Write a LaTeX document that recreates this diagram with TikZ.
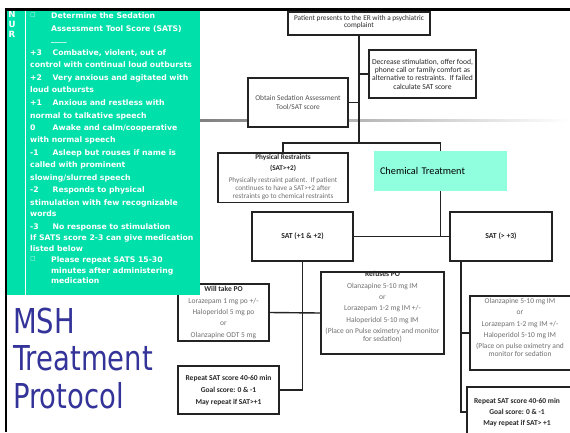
\documentclass[tikz,border=0pt]{standalone}
\usepackage{fontspec}
\setmainfont{Carlito}
\newfontfamily\panelfont{DejaVu Sans}
\newfontfamily\titlefont{DejaVu Sans}[FakeStretch=0.8]
\definecolor{panelgreen}{RGB}{0,224,170}
\definecolor{chemfill}{RGB}{144,255,222}
\definecolor{titleblue}{RGB}{51,51,153}
\definecolor{linedark}{RGB}{35,35,35}
\definecolor{txtgray}{RGB}{112,112,112}
\definecolor{txtmid}{RGB}{80,80,80}
\definecolor{txtdark}{RGB}{40,40,40}
\tikzset{
  box/.style={draw=linedark, line width=1.3pt, fill=white, inner sep=2pt, align=center,
    font=\fontsize{7.5}{11.3}\selectfont, text=txtgray},
  btxt/.style={inner sep=0pt, align=center, font=\fontsize{7.5}{11.3}\selectfont, text=txtgray},
  link/.style={draw=linedark, line width=1.4pt},
  ptxt/.style={inner sep=0pt, text=white, font=\fontsize{7.7}{12.4}\selectfont\panelfont\bfseries},
  ttl/.style={inner sep=0pt, anchor=base west, text=titleblue, font=\fontsize{34.3}{37}\selectfont\titlefont},
}
\begin{document}
\begin{tikzpicture}[x=1pt,y=-1pt]
\useasboundingbox (0,0) rectangle (570,432);
\clip (0,0) rectangle (570,432);
\fill[white] (0,0) rectangle (570,432);

% faded rule across the flowchart area
\shade[left color=black!50, right color=white] (200,119) rectangle (570,121);

% flowchart boxes
\node[box, minimum width=142pt, minimum height=23pt] (patient) at (359,23.5) {};
\node[btxt, font=\fontsize{7.3}{7.6}\selectfont, text=txtdark] (patientT) at (359,22)
  {Patient presents to the ER with a psychiatric\\complaint};

\node[box, minimum width=107pt, minimum height=48pt, font=\fontsize{7.6}{8.3}\selectfont, text=txtdark]
  (decr) at (422.5,74)
  {Decrease stimulation, offer food,\\phone call or family comfort as\\alternative to restraints.\ \ If failed\\calculate SAT score};

\node[box, minimum width=100pt, minimum height=49pt, font=\fontsize{7.4}{9}\selectfont, text=txtmid]
  (obtain) at (298,102.5) {Obtain Sedation Assessment\\Tool/SAT score};

\node[box, minimum width=130pt, minimum height=49pt, font=\fontsize{7.2}{8}\selectfont]
  (phys) at (283,177.5)
  {\textcolor{txtdark}{\bfseries Physical Restraints}\\[3pt]
   \textcolor{txtdark}{\bfseries (SAT>+2)}\\[4pt]
   Physically restraint patient.\ \ If patient\\continues to have a SAT>+2 after\\restraints go to chemical restraints};

\node[fill=chemfill, minimum width=133pt, minimum height=40pt, text width=121pt, inner xsep=6pt,
  align=left, font=\fontsize{10.3}{12}\selectfont, text=black] (chem) at (440.5,171) {Chemical Treatment};

\node[box, minimum width=101pt, minimum height=49pt, font=\fontsize{7.7}{9}\selectfont\bfseries, text=txtdark]
  (satL) at (302.5,236.5) {SAT (+1 \& +2)};
\node[box, minimum width=102pt, minimum height=49pt, font=\fontsize{7.7}{9}\selectfont\bfseries, text=txtdark]
  (satR) at (501,236.5) {SAT (> +3)};

\node[box, minimum width=91pt, minimum height=57pt] (willpo) at (223.5,312.5)
  {\textcolor{txtdark}{\bfseries Will take PO}\\Lorazepam 1 mg po +/-\\Haloperidol 5 mg po\\or\\Olanzapine ODT 5 mg};

\node[box, minimum width=123pt, minimum height=82pt] (refuses) at (382.5,313) {};
\node[btxt] (refusesT) at (382.5,307)
  {\textcolor{txtdark}{\bfseries Refuses PO}\\Olanzapine 5-10 mg IM\\or\\Lorazepam 1-2 mg IM +/-\\Haloperidol 5-10 mg IM\\(Place on Pulse oximetry and monitor\\[-3.5pt]for sedation)};

\node[box, minimum width=101pt, minimum height=48pt, font=\fontsize{7.5}{12}\selectfont\bfseries, text=txtdark]
  (repL) at (228.5,390) {Repeat SAT score 40-60 min\\Goal score: 0 \& -1\\May repeat if SAT>+1};

\node[box, minimum width=106pt, minimum height=74pt] (olzR) at (523,333) {};
\node[btxt] (olzRT) at (520,327.5)
  {Olanzapine 5-10 mg IM\\or\\Lorazepam 1-2 mg IM +/-\\Haloperidol 5-10 mg IM\\(Place on pulse oximetry and\\[-3.3pt]monitor for sedation};

\node[box, minimum width=108pt, minimum height=50pt] (repR) at (521,412) {};
\node[btxt, font=\fontsize{7.5}{11}\selectfont\bfseries, text=txtdark] (repRT) at (517,412)
  {Repeat SAT score 40-60 min\\Goal score: 0 \& -1\\May repeat if SAT> +1};

% connectors
\coordinate (fork) at (359,143);
\coordinate (rtop) at (461,261);
\draw[link] (patient.south) -- (fork);
\draw[link] (decr.west) -- (decr.west -| fork);
\draw[link] (obtain.east) -- (obtain.east -| fork);
\draw[link] (phys.north) |- (fork) -| (chem.north);
\draw[link] (chem.south) -- (chem.south |- satL.east);
\draw[link] (satL.east) -- (satR.west);
\draw[link] (satL.south) |- (repL.east);
\draw[link] (willpo.east) -- (refuses.west);
\draw[link] (rtop) |- (repR.west);
\draw[link] (rtop |- olzR.west) -- (olzR.west);

% SATS panel
\fill[panelgreen] (7,11) rectangle (200,295);
\draw[white, line width=1pt] (25,11) -- (25,295);
\node[ptxt, align=center, font=\fontsize{8.6}{10}\selectfont\panelfont\bfseries] (nur) at (12,24) {N\\U\\R};
\begin{scope}
\clip (26,11) rectangle (200,295);
\node[ptxt, font=\fontsize{5.5}{6}\selectfont\panelfont] (bul1) at (33,15) {□};
\node[ptxt, font=\fontsize{5.5}{6}\selectfont\panelfont] (bul2) at (33,259) {□};
\foreach \y/\t in {18/{Determine the Sedation}, 31/{Assessment Tool Score (SATS)}, 41/{\_\_\_\_},
    262/{Please repeat SATS 15-30}, 273/{minutes after administering}, 283/{medication}}
  \node[ptxt, anchor=base west] (ha\y) at (51,\y) {\t};
\foreach \y/\s/\t in {55/+3/{Combative, violent, out of}, 80/+2/{Very anxious and agitated with},
    105/+1/{Anxious and restless with}, 130/0/{Awake and calm/cooperative},
    155/-1/{Asleep but rouses if name is}, 192/-2/{Responds to physical},
    229/-3/{No response to stimulation}}
  {\node[ptxt, anchor=base west] (sc\y) at (30,\y) {\s};
   \node[ptxt, anchor=base west] (de\y) at (52.5,\y) {\t};}
\foreach \y/\t in {67/{control with continual loud outbursts}, 92/{loud outbursts},
    118/{normal to talkative speech}, 142/{with normal speech}, 167/{called with prominent},
    180/{slowing/slurred speech}, 205/{stimulation with few recognizable}, 216/{words},
    240/{If SATS score 2-3 can give medication}, 251/{listed below}}
  \node[ptxt, anchor=base west] (co\y) at (30,\y) {\t};
\end{scope}

% frame bars
\fill[black] (5,8) rectangle (570,11);
\fill[black] (5,8) rectangle (7,432);

% title
\node[ttl] (t1) at (13,333) {MSH};
\node[ttl] (t2) at (13,370) {Treatment};
\node[ttl] (t3) at (13,408) {Protocol};
\end{tikzpicture}
\end{document}
